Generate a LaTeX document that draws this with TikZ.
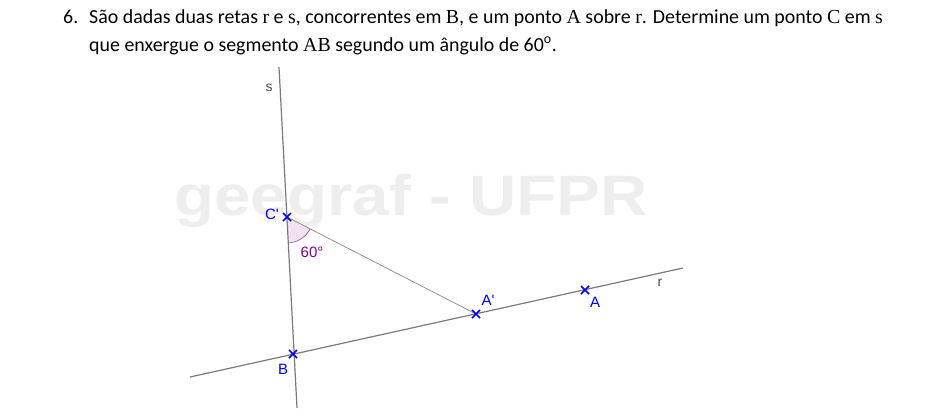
\documentclass[tikz,border=0pt]{standalone}
\usepackage{fontspec}
\setmainfont{Carlito}
\newfontfamily\labfont{Liberation Sans}
\newfontfamily\serl{Liberation Serif}
\newcommand{\ml}[1]{{\serl #1}}
\definecolor{lineg}{HTML}{7A7A7A}
\definecolor{ptblue}{HTML}{0000FF}
\definecolor{wm}{HTML}{EEEEEE}
\definecolor{angfill}{HTML}{F2E3F2}
\definecolor{angdraw}{HTML}{A040A0}
\definecolor{angtxt}{HTML}{800080}
\tikzset{
  geoline/.style={draw=lineg, line width=1.2pt},
  segline/.style={draw=lineg!90, line width=0.7pt},
  ptlabel/.style={font=\labfont\fontsize{15}{17}\selectfont, text=ptblue, inner sep=0pt},
  linelabel/.style={font=\labfont\fontsize{14}{16}\selectfont, text=black!70, inner sep=0pt},
  maintext/.style={font=\fontsize{19.9}{22}\selectfont, inner sep=0pt, anchor=base west},
  xmark/.style={draw=ptblue, line width=1.6pt}
}
\begin{document}
\begin{tikzpicture}[x=1pt,y=-1pt]
\useasboundingbox (0,0) rectangle (950,416);
% statement
\node[maintext] (num) at (63,23) {6.};
\node[maintext] (l1) at (89,23) {São dadas duas retas \ml{r} e \ml{s}, concorrentes em \ml{B}, e um ponto \ml{A} sobre \ml{r}. Determine um ponto \ml{C} em \ml{s}};
\node[maintext] (l2) at (89,51) {que enxergue o segmento \ml{AB} segundo um ângulo de 60\textsuperscript{o}.};
% watermark
\node[font=\labfont\bfseries\fontsize{57}{60}\selectfont, text=wm, inner sep=0pt, anchor=base west, xscale=1.15] (wmk) at (174,215) {geegraf - UFPR};
% points
\coordinate (stop) at (279,67);
\coordinate (sbot) at (297,408);
\coordinate (rl) at (190,377);
\coordinate (rr) at (683,268);
\coordinate (B) at (293,354);
\coordinate (C) at (287,217);
\coordinate (Ap) at (476,314);
\coordinate (A) at (585,290);
% angle
\fill[angfill] (C) -- ++(27.2:26) arc[start angle=27.2, end angle=87.5, radius=26] -- cycle;
\draw[angdraw, line width=0.6pt] (C) ++(27.2:26) arc[start angle=27.2, end angle=87.5, radius=26];
% lines
\draw[geoline] (stop) -- (sbot);
\draw[geoline] (rl) -- (rr);
\draw[segline] (C) -- (Ap);
% crosses
\foreach \p in {B,C,Ap,A}{
  \draw[xmark] (\p) ++(-4,-4) -- ++(8,8);
  \draw[xmark] (\p) ++(-4,4) -- ++(8,-8);
}
% labels
\node[linelabel] (ls) at (269,88) {s};
\node[linelabel] (lr) at (660,283) {r};
\node[ptlabel] (lC) at (272,214) {C'};
\node[ptlabel] (lAp) at (488,300) {A'};
\node[ptlabel] (lA) at (595,302) {A};
\node[ptlabel] (lB) at (283,369) {B};
\node[ptlabel, text=angtxt] (lang) at (312,252) {60°};
\end{tikzpicture}
\end{document}
